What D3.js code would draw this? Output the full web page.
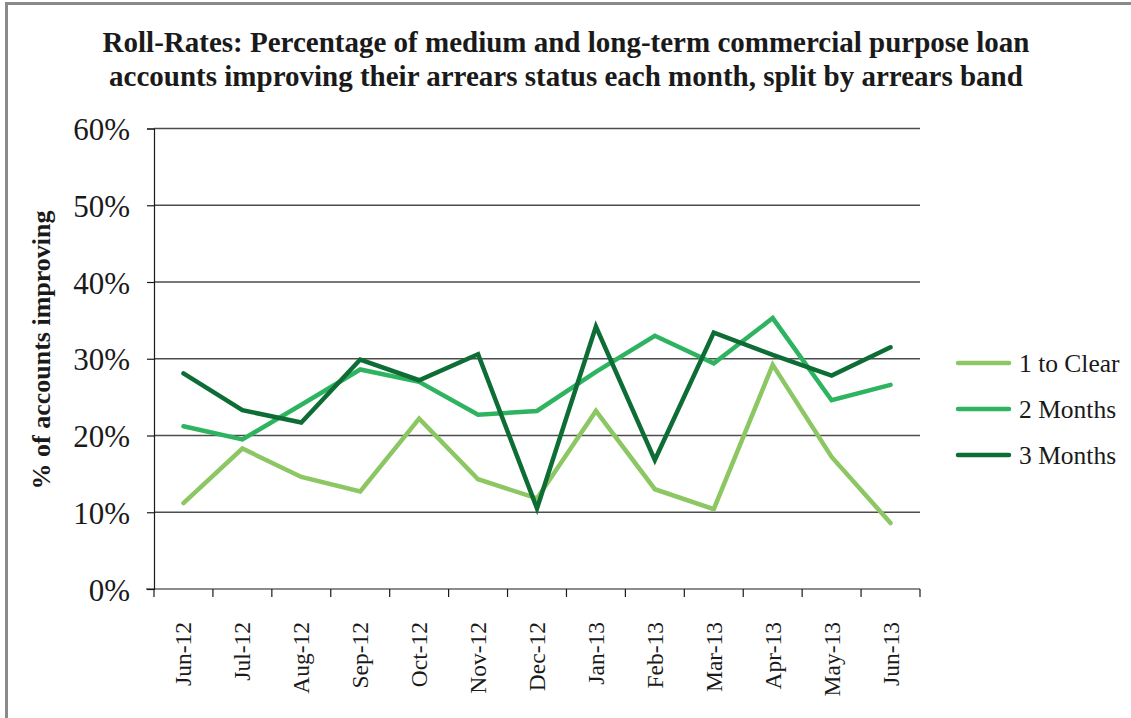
<!DOCTYPE html>
<html>
<head>
<meta charset="utf-8">
<script src="https://cdn.jsdelivr.net/npm/d3@7"></script>
<style>
  html, body { margin: 0; padding: 0; background: #fff; }
  svg { display: block; }
</style>
</head>
<body>
<svg id="chart" width="1131" height="718"></svg>
<script>
// Monthly categories
const months = ["Jun-12","Jul-12","Aug-12","Sep-12","Oct-12","Nov-12","Dec-12",
                "Jan-13","Feb-13","Mar-13","Apr-13","May-13","Jun-13"];

// Share of accounts improving, by arrears band (%)
const oneToClear = [11.2, 18.3, 14.6, 12.7, 22.2, 14.3, 11.8, 23.2, 13.0, 10.4, 29.2, 17.2, 8.6];
const twoMonths  = [21.2, 19.5, 24.0, 28.6, 27.0, 22.7, 23.2, 28.3, 33.0, 29.4, 35.3, 24.6, 26.6];
const threeMonths= [28.1, 23.3, 21.7, 29.9, 27.2, 30.6, 10.5, 34.2, 16.8, 33.4, 30.5, 27.8, 31.5];

const seriesNames = ["1 to Clear", "2 Months", "3 Months"];
const yTicks = [0, 10, 20, 30, 40, 50, 60];

const series = [
  { name: seriesNames[0], values: oneToClear,  color: "#8cc763" },
  { name: seriesNames[1], values: twoMonths,   color: "#2eb461" },
  { name: seriesNames[2], values: threeMonths, color: "#0d6d35" }
];

const svg = d3.select("#chart");
const serif = "'Liberation Serif', 'Times New Roman', serif";

// outer frame
svg.append("rect")
  .attr("x", 6.5).attr("y", 3.5)
  .attr("width", 1200).attr("height", 800)
  .attr("fill", "none").attr("stroke", "#8a8a8a").attr("stroke-width", 3);

// title
const title = svg.append("text")
  .attr("text-anchor", "middle")
  .attr("font-family", serif)
  .attr("font-weight", "bold")
  .attr("font-size", 29)
  .attr("fill", "#1a1a1a");
title.append("tspan").attr("x", 566).attr("y", 52)
  .text("Roll-Rates: Percentage of medium and long-term commercial purpose loan");
title.append("tspan").attr("x", 566).attr("y", 86)
  .text("accounts improving their arrears status each month, split by arrears band");

const plotLeft = 154, plotRight = 920, plotTop = 128.5, plotBottom = 589;

const x = d3.scaleBand().domain(months).range([plotLeft, plotRight]).padding(0);
const y = d3.scaleLinear().domain([0, 60]).range([plotBottom, plotTop]);

// horizontal gridlines
svg.append("g")
  .selectAll("line")
  .data(yTicks.filter(d => d > 0))
  .join("line")
  .attr("x1", plotLeft).attr("x2", plotRight)
  .attr("y1", d => y(d)).attr("y2", d => y(d))
  .attr("stroke", "#4d4d4d").attr("stroke-width", 1.4);

// y axis
const yAxis = svg.append("g")
  .attr("transform", `translate(${plotLeft},0)`)
  .call(d3.axisLeft(y).tickValues(yTicks).tickFormat(d => d + "%").tickSize(7).tickPadding(17));
yAxis.select(".domain").attr("stroke", "#1a1a1a").attr("stroke-width", 1.2);
yAxis.selectAll(".tick line").attr("stroke", "#1a1a1a").attr("stroke-width", 1.2);
yAxis.selectAll(".tick text")
  .attr("font-family", serif).attr("font-size", 31).attr("fill", "#1a1a1a")
  .attr("dy", "0.36em");

// x axis: ticks at category boundaries
const xAxis = svg.append("g").attr("transform", `translate(0,${plotBottom})`);
const boundaries = months.map(m => x(m)).concat([plotRight]);
xAxis.append("line")
  .attr("x1", plotLeft - 8).attr("x2", plotRight)
  .attr("y1", 0).attr("y2", 0)
  .attr("stroke", "#1a1a1a").attr("stroke-width", 1.2);
xAxis.selectAll("line.tk")
  .data(boundaries)
  .join("line")
  .attr("class", "tk")
  .attr("x1", d => d).attr("x2", d => d)
  .attr("y1", 0).attr("y2", 8)
  .attr("stroke", "#1a1a1a").attr("stroke-width", 1.2);
xAxis.selectAll("text")
  .data(months)
  .join("text")
  .attr("transform", d => `translate(${x(d) + x.bandwidth() / 2 + 8},33) rotate(-90)`)
  .attr("text-anchor", "end")
  .attr("font-family", serif).attr("font-size", 23.5).attr("fill", "#1a1a1a")
  .text(d => d);

// y axis title
svg.append("text")
  .attr("transform", `translate(50,350) rotate(-90)`)
  .attr("text-anchor", "middle")
  .attr("font-family", serif).attr("font-weight", "bold")
  .attr("font-size", 26).attr("fill", "#1a1a1a")
  .text("% of accounts improving");

// series lines
const line = d3.line()
  .x((d, i) => x(months[i]) + x.bandwidth() / 2)
  .y(d => y(d));

svg.append("g")
  .selectAll("path")
  .data(series)
  .join("path")
  .attr("d", s => line(s.values))
  .attr("fill", "none")
  .attr("stroke", s => s.color)
  .attr("stroke-width", 4.5)
  .attr("stroke-linejoin", "miter")
  .attr("stroke-linecap", "round");

// legend
const legend = svg.append("g")
  .selectAll("g")
  .data(series)
  .join("g")
  .attr("transform", (d, i) => `translate(958,${363 + i * 46})`);
legend.append("line")
  .attr("x1", 0).attr("x2", 51)
  .attr("stroke", d => d.color).attr("stroke-width", 4.5)
  .attr("stroke-linecap", "round");
legend.append("text")
  .attr("x", 61).attr("dy", "0.34em")
  .attr("font-family", serif).attr("font-size", 25.5).attr("fill", "#1a1a1a")
  .text(d => d.name);
</script>
</body>
</html>
